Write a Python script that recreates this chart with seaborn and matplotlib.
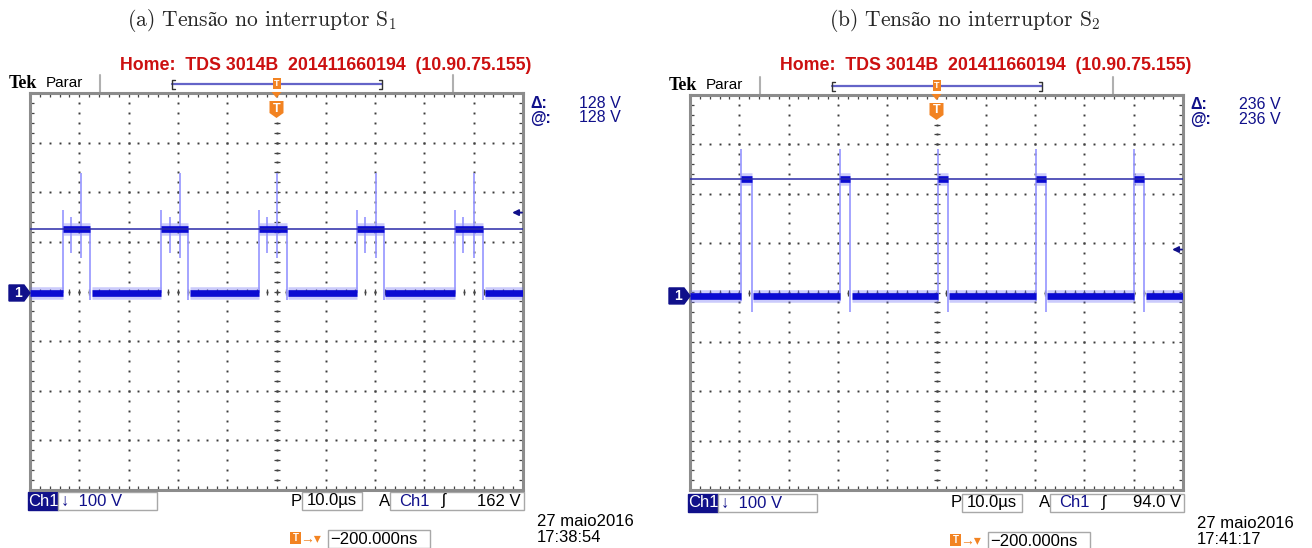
import numpy as np
import pandas as pd
import matplotlib
matplotlib.use("Agg")
import matplotlib.pyplot as plt
from matplotlib.patches import Polygon, Rectangle
import seaborn as sns

# screen captures: 100 V/div, 10 us/div, 10 x 8 divisions
titles = ["(a) Tens$\\mathrm{ã}$o no interruptor S$_1$",
          "(b) Tens$\\mathrm{ã}$o no interruptor S$_2$"]
header = "Home:  TDS 3014B  201411660194  (10.90.75.155)"
cursor_v = [128, 236]
cursor_labels = ["128 V", "236 V"]
trig_v = [162, 94.0]
trig_labels = ["162 V", "94.0 V"]
clock = ["17:38:54", "17:41:17"]
date = "27 maio2016"
ground_off = [-3, -7]          # ground marker sits a little below the centre line

rise_a = [-43.4, -23.4, -3.6, 16.3, 36.2]
fall_a = [-37.8, -17.9, 2.1, 21.8, 41.9]
rise_b = [-39.7, -19.6, 0.3, 20.2, 40.1]
fall_b = [-37.5, -17.5, 2.3, 22.2, 42.1]

# ringing on the S1 plateau: (offset after turn-on in us, top V, bottom V)
ring_a = [(0.0, 167, 0), (1.7, 153, 81), (3.8, 242, 70)]
fall_under_a = -15
spike_top_b = 298
fall_under_b = -32

W, H = 493, 397
grid_left = [30, 690]
grid_top = [93, 95]
grid_h = [397, 395]
title_x = [262, 965]

NAVY = "#10108a"
BLUE = "#0a0ad2"
FUZZ = "#6a6af5"
EDGE = "#9a9aff"
ORANGE = "#f28322"


def segments(rise, fall, level, gap=0.3):
    rows = []
    lo_start = [-50.0] + [f + gap for f in fall]
    lo_end = list(rise) + [50.0]
    for i, (s, e) in enumerate(zip(lo_start, lo_end)):
        rows += [("lo%d" % i, s, 0.0), ("lo%d" % i, e, 0.0)]
    for i, (s, e) in enumerate(zip(rise, fall)):
        rows += [("hi%d" % i, s, level), ("hi%d" % i, e, level)]
    return pd.DataFrame(rows, columns=["seg", "t", "v"])


sns.set_theme(style="white")
plt.rcParams["font.family"] = ["Liberation Sans", "DejaVu Sans"]
plt.rcParams["mathtext.fontset"] = "cm"

fig = plt.figure(figsize=(13.12, 5.48), dpi=100)
SANS = ["Liberation Sans", "DejaVu Sans"]

for k in range(2):
    h = grid_h[k]
    ax = fig.add_axes([grid_left[k] / 1312, 1 - (grid_top[k] + h) / 548, W / 1312, h / 548])
    off = ground_off[k]
    c = -off
    ax.set_xlim(-50, 50)
    ax.set_ylim(c - 400, c + 400)

    def P(x, y):
        return (x / W, 1 - y / h)

    # graticule
    fx = np.linspace(0, 1, 51)
    fy = np.linspace(0, 1, 41)
    for gx in np.linspace(0, 1, 11)[1:-1]:
        ax.plot(np.full_like(fy, gx), fy, ls="none", marker="s", ms=1.4, mew=0,
                color="#3c3c3c", transform=ax.transAxes, zorder=1)
    for gy in np.linspace(0, 1, 9)[1:-1]:
        ax.plot(fx, np.full_like(fx, gy), ls="none", marker="s", ms=1.4, mew=0,
                color="#3c3c3c", transform=ax.transAxes, zorder=1)
    ax.plot(np.full_like(fy, 0.5), fy, ls="none", marker="_", ms=4, mew=0.9,
            color="#444444", transform=ax.transAxes, zorder=1)
    ax.plot(fx, np.full_like(fx, 0.5), ls="none", marker="|", ms=4, mew=0.9,
            color="#444444", transform=ax.transAxes, zorder=1)

    ax.set_xticks(np.arange(-50, 51, 10))
    ax.set_xticks(np.arange(-50, 51, 2), minor=True)
    ax.set_yticks(c + np.arange(-400, 401, 100))
    ax.set_yticks(c + np.arange(-400, 401, 20), minor=True)
    ax.tick_params(which="both", direction="in", top=True, right=True, bottom=True,
                   left=True, labelbottom=False, labelleft=False, length=3,
                   width=0.9, color="#444444")
    ax.set_xlabel("")
    ax.set_ylabel("")
    for s in ax.spines.values():
        s.set_color("#8c8c8c")
        s.set_linewidth(2.2)

    # waveform
    if k == 0:
        rise, fall, level = rise_a, fall_a, cursor_v[0]
    else:
        rise, fall, level = rise_b, fall_b, cursor_v[1]
    df = segments(rise, fall, level)
    sns.lineplot(data=df, x="t", y="v", units="seg", estimator=None, color=FUZZ,
                 lw=9, alpha=0.35, ax=ax, legend=False, zorder=3,
                 solid_capstyle="butt")
    sns.lineplot(data=df, x="t", y="v", units="seg", estimator=None, color=BLUE,
                 lw=4.8, ax=ax, legend=False, zorder=4, solid_capstyle="butt")
    if k == 0:
        for r, f in zip(rise, fall):
            for dt, top, bot in ring_a:
                ax.vlines(r + dt, bot, top, color=EDGE, lw=1.4, alpha=0.9, zorder=3)
            ax.vlines(f, fall_under_a, level, color=EDGE, lw=1.4, alpha=0.9, zorder=3)
    else:
        for r, f in zip(rise, fall):
            ax.vlines(r, -10, spike_top_b, color=EDGE, lw=1.4, alpha=0.9, zorder=3)
            ax.vlines(f, fall_under_b, level, color=EDGE, lw=1.4, alpha=0.9, zorder=3)
    ax.axhline(level, color="#2a2aa8", lw=1.1, zorder=5)

    # trigger level arrow
    ax.annotate("", xy=(47.8, trig_v[k]), xytext=(49.8, trig_v[k]),
                arrowprops=dict(arrowstyle="-|>", color=NAVY, lw=1.3,
                                mutation_scale=9, shrinkA=0, shrinkB=0))

    # ground marker
    gy = (c + 400) / 800 * h
    gpx = [P(-21, gy - 8), P(-6, gy - 8), P(0, gy), P(-6, gy + 8), P(-21, gy + 8)]
    ax.add_patch(Polygon(gpx, closed=True, fc=NAVY, ec=NAVY, transform=ax.transAxes,
                         clip_on=False, zorder=6))
    ax.text(*P(-12, gy), "1", color="white", fontsize=10, fontweight="bold",
            ha="center", va="center", transform=ax.transAxes, family=SANS, zorder=7)

    # top bar
    cx = W / 2
    for bx in (70, 423):
        ax.plot(*zip(P(bx, -18), P(bx, 0)), color="#b0b0b0", lw=1.5,
                transform=ax.transAxes, clip_on=False)
    ax.plot(*zip(P(142, -9), P(352, -9)), color="#6464c8", lw=1.6,
            transform=ax.transAxes, clip_on=False)
    for bx, d in ((142, 3), (352, -3)):
        ax.plot(*zip(P(bx + d, -13), P(bx, -13), P(bx, -4), P(bx + d, -4)),
                color="#333333", lw=1, transform=ax.transAxes, clip_on=False)
    ax.add_patch(Rectangle(P(cx - 4, -4), 8 / W, 11 / h, fc=ORANGE, ec="none",
                           transform=ax.transAxes, clip_on=False, zorder=6))
    ax.text(*P(cx, -9.5), "T", color="white", fontsize=6.5, fontweight="bold",
            ha="center", va="center", transform=ax.transAxes, family=SANS, zorder=7)
    ax.add_patch(Polygon([P(cx - 5, -1), P(cx + 5, -1), P(cx, 5)], closed=True,
                         fc=ORANGE, ec="none", transform=ax.transAxes,
                         clip_on=False, zorder=6))
    ax.add_patch(Polygon([P(cx - 7, 8), P(cx + 7, 8), P(cx + 7, 20), P(cx, 25),
                          P(cx - 7, 20)], closed=True, fc=ORANGE, ec="none",
                         transform=ax.transAxes, clip_on=False, zorder=6))
    ax.text(*P(cx, 15.5), "T", color="white", fontsize=9, fontweight="bold",
            ha="center", va="center", transform=ax.transAxes, family=SANS, zorder=7)

    ax.text(*P(-21, -9), "Tek", fontsize=13, fontweight="bold", color="black",
            family=["Liberation Serif", "DejaVu Serif"], ha="left", va="center",
            transform=ax.transAxes)
    ax.text(*P(16, -10), "Parar", fontsize=11, color="black", family=SANS,
            ha="left", va="center", transform=ax.transAxes)

    # readouts on the right
    ax.text(*P(500, 10), "Δ:", fontsize=11.5, color=NAVY, family=SANS,
            fontweight="bold", ha="left", va="center", transform=ax.transAxes)
    ax.text(*P(500, 25), "@:", fontsize=11.5, color=NAVY, family=SANS,
            fontweight="bold", ha="left", va="center", transform=ax.transAxes)
    for yy in (10, 25):
        ax.text(*P(591, yy), cursor_labels[k], fontsize=11.5, color=NAVY, family=SANS,
                ha="right", va="center", transform=ax.transAxes)

    # status line
    def box(x0, x1, y0, y1, fc="white", ec="#a8a8a8"):
        ax.add_patch(Rectangle(P(x0, y1), (x1 - x0) / W, (y1 - y0) / h, fc=fc, ec=ec,
                               lw=1, transform=ax.transAxes, clip_on=False))

    def txt(x, y, s, color="black", ha="left"):
        ax.text(*P(x, y), s, fontsize=12, color=color, family=SANS, ha=ha,
                va="center", transform=ax.transAxes)

    box(-2, 28, 399, 417, fc=NAVY, ec=NAVY)
    txt(13, 408, "Ch1", color="white", ha="center")
    box(28, 127, 399, 417)
    txt(31, 408, "↓  100 V", color=NAVY)
    txt(261, 408, "P")
    box(272, 332, 399, 417)
    txt(302, 408, "10.0µs", ha="center")
    txt(349, 408, "A")
    box(360, 494, 399, 417)
    txt(369, 408, "Ch1", color=NAVY)
    txt(412, 408, "ʃ")
    txt(491, 408, trig_labels[k], ha="right")

    ax.add_patch(Rectangle(P(260, 451), 11 / W, 12 / h, fc=ORANGE, ec="none",
                           transform=ax.transAxes, clip_on=False))
    ax.text(*P(265.5, 445), "T", color="white", fontsize=7, fontweight="bold",
            ha="center", va="center", transform=ax.transAxes, family=SANS)
    ax.text(*P(281, 445), "→▾", color=ORANGE, fontsize=10, family=SANS,
            ha="center", va="center", transform=ax.transAxes)
    box(298, 400, 437, 455)
    txt(300, 446, "−200.000ns")
    txt(507, 429, date)
    txt(507, 445, clock[k])

    fig.text(title_x[k] / 1312, 1 - 20 / 548, titles[k], fontsize=15.5,
             family=["cmr10", "DejaVu Serif"], ha="center", va="center")
    fig.text((grid_left[k] + 296) / 1312, 1 - 66 / 548, header, fontsize=12.8,
             fontweight="bold", color="#cc1010", family=SANS, ha="center", va="center")

fig.savefig("out.png", dpi=100, facecolor="white")
